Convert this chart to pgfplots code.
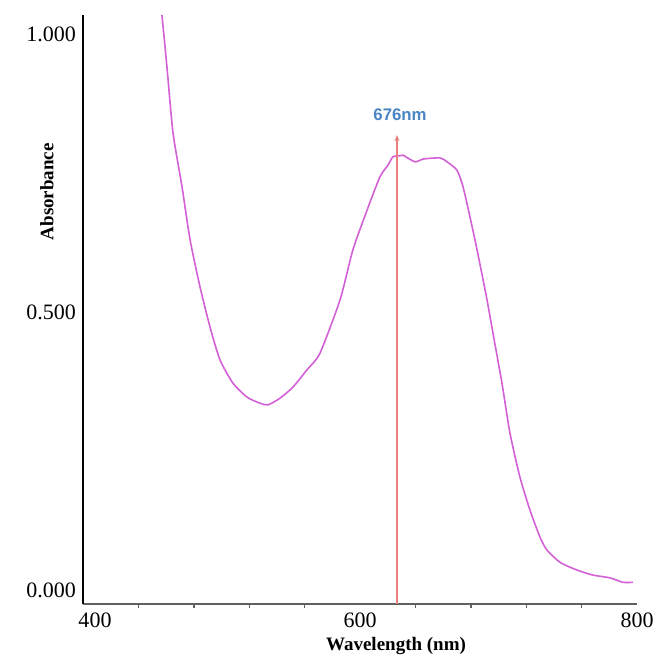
\documentclass[border=0pt]{standalone}
\usepackage{pgfplots}
\pgfplotsset{compat=1.18}
\usepackage{fontspec}
\setmainfont{Liberation Serif}
\newfontfamily\labelsans{Liberation Sans}
\usetikzlibrary{arrows.meta}
\definecolor{spec}{RGB}{212,96,214}
\definecolor{peakline}{RGB}{232,128,128}
\definecolor{peaktext}{RGB}{74,134,196}

\begin{document}
\begin{tikzpicture}
\path[use as bounding box] (-41.5pt,-26.5pt) rectangle (286pt,302pt);
\begin{axis}[
    scale only axis,
    width=277pt, height=294.5pt,
    xmin=400, xmax=800,
    ymin=-0.025, ymax=1.034,
    clip=false,
    axis x line=bottom, axis y line=left,
    x axis line style={-, draw=gray!75!black, line width=1pt},
    y axis line style={-, draw=black, line width=0.7pt},
    xtick={400,600,800},
    xticklabels={\hspace{12pt}400,600,800},
    minor xtick={440,480,520,560,640,680,720,760},
    ytick={0,0.5,1},
    yticklabels={0.000,0.500,1.000},
    major tick length=0pt,
    minor tick length=2pt,
    xtick align=outside,
    minor tick style={gray!75!black, line width=0.7pt},
    ticklabel style={font=\fontsize{11}{13}\selectfont},
    xticklabel style={yshift=-1pt},
    xlabel={\textbf{Wavelength (nm)}},
    ylabel={\textbf{Absorbance}},
    label style={font=\fontsize{9.5}{11}\selectfont},
    xlabel style={at={(axis description cs:0.565,-0.071)}, anchor=center},
    ylabel style={at={(axis description cs:-0.065,0.70)}, anchor=center},
]
\addplot[spec, line width=0.8pt, smooth, tension=0.4] coordinates {
(457.0,1.034) (460.6,0.941) (465.0,0.822) (471.5,0.725) (477.3,0.630)
(484.5,0.545) (491.7,0.473) (498.9,0.414) (508.3,0.372) (518.4,0.347)
(527.8,0.336) (533.6,0.333) (542.2,0.345) (551.6,0.365) (561.7,0.396)
(571.1,0.426) (585.6,0.522) (594.9,0.612) (605.1,0.683) (614.4,0.743)
(620.2,0.764) (623.8,0.779) (628.9,0.781) (631.0,0.782) (639.7,0.770)
(645.5,0.775) (657.8,0.777) (662.8,0.770) (670.0,0.755) (674.4,0.725)
(679.4,0.671) (684.5,0.612) (691.7,0.522) (696.0,0.462) (702.5,0.372)
(708.3,0.282) (715.5,0.203) (722.7,0.144) (730.0,0.095) (735.0,0.072)
(744.4,0.050) (756.7,0.036) (768.2,0.027) (780.5,0.022) (789.9,0.014)
(797.1,0.014)
};
\addplot[peakline, line width=0.6pt, -{Stealth[length=3pt,width=2.5pt]}] coordinates {
(626.7,-0.025) (626.7,0.818)
};
\node[text=peaktext, font=\labelsans\bfseries\fontsize{8.4}{10}\selectfont]
    at (axis cs:628.9,0.854) {676nm};
\end{axis}
\end{tikzpicture}
\end{document}
